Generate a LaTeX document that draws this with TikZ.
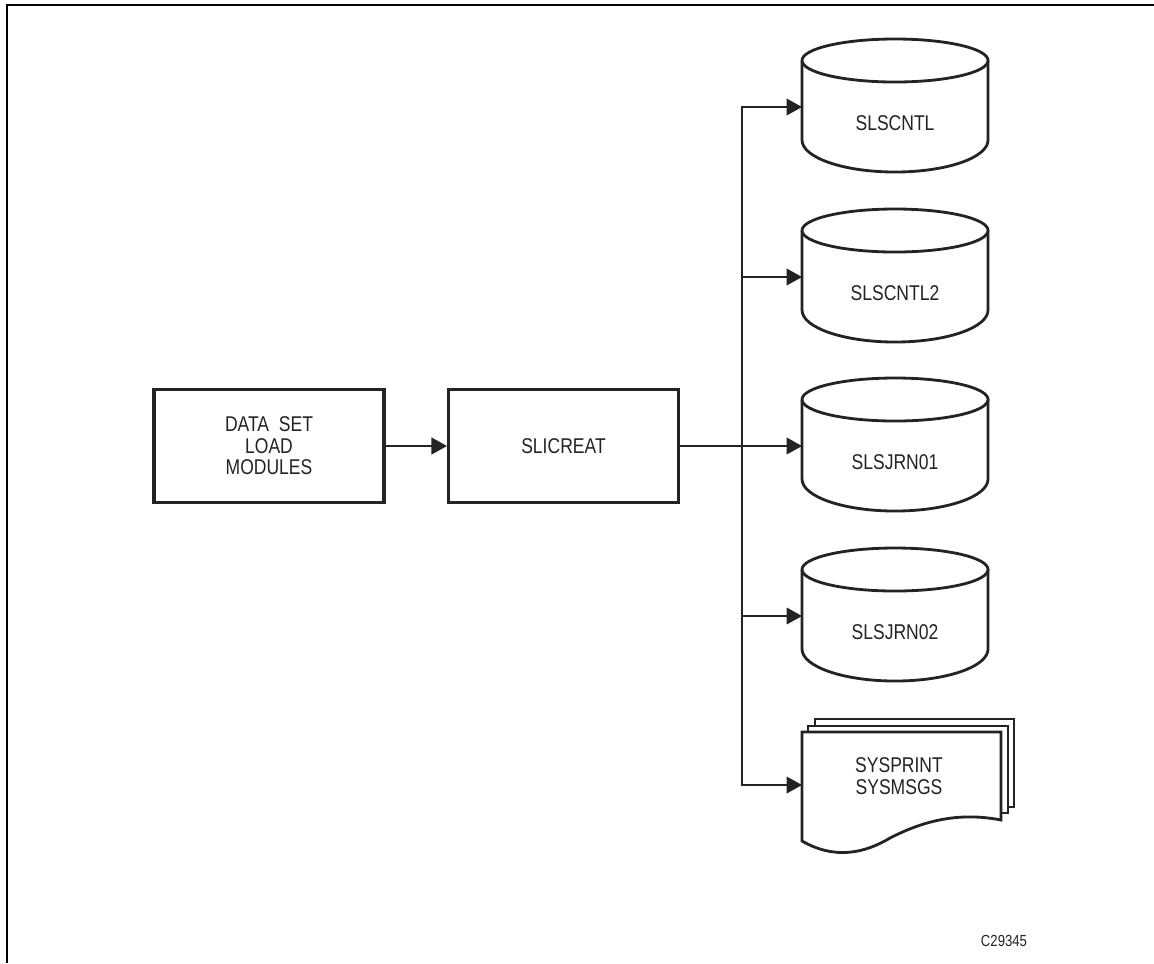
\documentclass[tikz,border=0pt]{standalone}
\usepackage{fontspec}
\setmainfont[FakeStretch=0.82]{Liberation Sans}
\usepackage{tikz}
\usetikzlibrary{arrows.meta, positioning, calc}
\definecolor{inkColor}{RGB}{35, 35, 35}

\begin{document}
\begin{tikzpicture}[
    x=0.025cm, y=-0.025cm,
    box/.style={
        rectangle,
        draw=inkColor,
        line width=2.2pt,
        minimum width=230*0.025cm,
        minimum height=113*0.025cm,
        align=center,
        font=\fontsize{15.2}{15.3}\selectfont,
        text=inkColor
    },
    disk/.style={
        draw=inkColor,
        line width=2pt
    },
    tag/.style={
        align=center,
        font=\fontsize{15.2}{15.3}\selectfont,
        text=inkColor
    },
    link/.style={
        draw=inkColor,
        line width=0.8pt,
        -{Triangle[length=11pt, width=12pt]}
    },
    page/.style={draw=inkColor, line width=0.9pt, fill=white}
]
    \useasboundingbox (0,0) rectangle (1154,963);

    % Frame
    \draw[line width=1.5pt] (7,963) -- (7,5) -- (1154,5);

    % Boxes
    \node[box] (dataset) at (269,446) {DATA~~SET\\LOAD\\MODULES};
    \node[box] (slicreat) at (563.5,446) {SLICREAT};

    % Printout
    \draw[page] (815,719) -- (1014,719) -- (1014,807) -- (815,807) -- cycle;
    \draw[page] (808,726) -- (1008,726) -- (1008,813) -- (808,813) -- cycle;
    \draw[disk, fill=white] (802,732) -- (1001,732) -- (1001,820)
        .. controls (960,812) and (925,820) .. (890,838)
        .. controls (865,853) and (835,860) .. (802,841) -- cycle;
    \node[tag] (sysprint) at (899,776) {SYSPRINT\\SYSMSGS};
    \coordinate (printin) at (802,785);

    % Connectors
    \coordinate (hub) at (742,446);
    \draw[link] (dataset) -- (slicreat);
    \draw[draw=inkColor, line width=0.8pt] (slicreat) -- (hub);
    \draw[link] (hub) |- (printin);

    % Disks
    \foreach \d/\y/\t in {slscntl/105.5/SLSCNTL, slscntltwo/275.5/SLSCNTL2, slsjrnone/444.5/SLSJRN01, slsjrntwo/614.5/SLSJRN02} {
        \draw[disk] (802,\y-45) arc[start angle=180, end angle=-180, x radius=2.325cm, y radius=0.5375cm];
        \draw[disk] (802,\y-45) -- (802,\y+34.5) arc[start angle=180, end angle=360, x radius=2.325cm, y radius=0.8cm] -- (988,\y-45);
        \node[tag] (\d-tag) at (895,\y+18) {\t};
        \coordinate (\d-in) at (802,\y+1.5);
        \draw[link] (hub) |- (\d-in);
    }

    \node[font=\fontsize{11.4}{12}\selectfont, text=inkColor] (figid) at (1004,941) {C29345};
\end{tikzpicture}
\end{document}
